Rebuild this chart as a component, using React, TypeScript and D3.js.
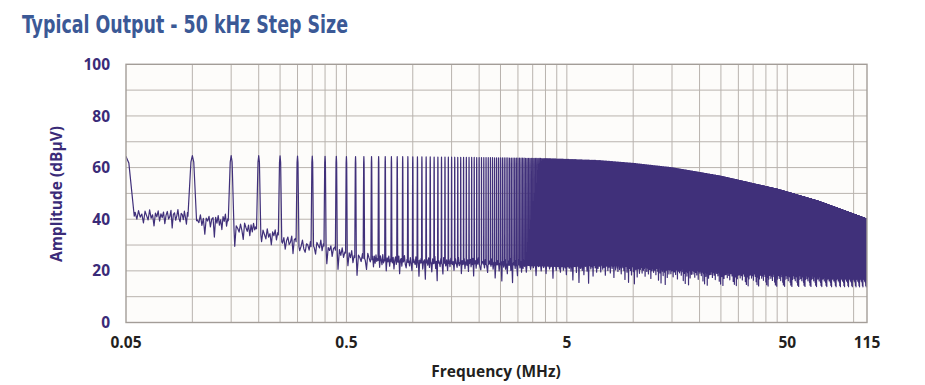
import React, { useMemo } from "react";
import * as d3 from "d3";

const TITLE = "Typical Output - 50 kHz Step Size";
const X_TITLE = "Frequency (MHz)";
const Y_TITLE = "Amplitude (dBµV)";

// Frequency axis (MHz), log scale
const stepMHz = 0.05;
const freqMin = 0.05;
const freqMax = 115;
const xTickValues = [0.05, 0.5, 5, 50, 115];
const xTickLabels = ["0.05", "0.5", "5", "50", "115"];
const gridDecades = [0.05, 0.5, 5, 50];
const gridMultipliers = [2, 3, 4, 5, 6, 7, 8, 9, 10];

// Amplitude axis (dBµV)
const yTickValues = [0, 20, 40, 60, 80, 100];
const yGridValues = [10, 20, 30, 40, 50, 60, 70, 80, 90];

// Peak envelope of the harmonic spikes
const peakFreq = [0.05, 0.1, 0.2, 0.5, 1, 2, 4, 7, 10, 15, 25, 46, 70, 115];
const peakDb = [64.3, 64.6, 64.6, 64.3, 64.2, 63.9, 63.5, 62.7, 61.6, 59.9, 56.6, 51.4, 46.8, 40];

// Noise floor between the first harmonics (one value per 50 kHz gap, 0.05–0.5 MHz)
const lowGapFloorDb = [41.2, 39.4, 36.3, 33.9, 31.3, 29.4, 29.6, 28, 26.9];
// Noise floor beyond 0.5 MHz
const floorFreq = [0.5, 0.6, 0.7, 1, 2, 3, 5, 7, 10, 20, 50, 115];
const floorDb = [25.5, 24.8, 24, 23.2, 22.6, 22.2, 21.6, 22.2, 21.8, 21.3, 20.8, 20.6];
// Floor jitter (dB)
const floorRipple = [
  1.5, -1.2, 2.1, -0.4, 0.8, -2.6, 1.9, 0.2, -1.5, 2.4, -0.8, 0.5, -3.8, 1.2, -0.3, 2.0, -1.9, 0.9,
  -0.6, 1.6, -2.9, 0.4, 1.8, -1.1, -0.2, 2.2, -4.6, 0.7, 1.3, -1.6, 0.1, 2.5, -0.9, -2.2, 1.1, 0.6,
  -1.4, 1.9, -0.5, -3.1, 1.4, 0.3, -0.7, 2.3, -1.8, 0.9, -5.2, 1.0, -0.1, 1.7, -2.4, 0.6, 1.2,
  -6.3, 1.3, -0.9, 2.0, -1.7, 0.4, -3.4, 1.6, -0.2, 2.6, -2.1, 0.7, -6.8, 1.1, 0.2, -1.3, 1.8,
  -0.6, -4.1, 2.2, 0.5, -1.0, 1.4, -2.7,
];
// Spike shape: frequency offsets (kHz) and drop below peak (dB)
const spikeOffsetKHz = [-1.5, 0, 1.5];
const spikeDropDb = [2.5, 0, 2.5];
const spikeBaseKHz = 4.5;

const W = 925;
const H = 385;
const M = { left: 126, right: 867, top: 64.3, bottom: 322.5 };

export default function App() {
  const x = useMemo(
    () => d3.scaleLog().domain([freqMin, freqMax]).range([M.left, M.right]),
    []
  );
  const y = useMemo(() => d3.scaleLinear().domain([0, 100]).range([M.bottom, M.top]), []);

  const pathD = useMemo(() => {
    const peakScale = d3.scaleLog().domain(peakFreq).range(peakDb).clamp(true);
    const floorScale = d3.scaleLog().domain(floorFreq).range(floorDb).clamp(true);
    const floorAt = (f: number) => {
      const k = Math.floor(f / stepMHz + 1e-9);
      if (k >= 1 && k <= lowGapFloorDb.length) return lowGapFloorDb[k - 1];
      if (k < 1) return lowGapFloorDb[0];
      return floorScale(f);
    };
    const pts: [number, number][] = [];
    let r = 0;
    const nH = Math.round(freqMax / stepMHz);
    const base = spikeBaseKHz / 1000;
    for (let k = 1; k <= nH; k++) {
      const fk = k * stepMHz;
      const pk = peakScale(fk);
      pts.push([fk - base, floorAt(fk - base)]);
      spikeOffsetKHz.forEach((o, i) => pts.push([fk + o / 1000, pk - spikeDropDb[i]]));
      pts.push([fk + base, floorAt(fk + base)]);
      if (k < nH) {
        const a = fk + base;
        const b = (k + 1) * stepMHz - base;
        const px = x(b) - x(a);
        const n = px > 6 ? Math.round(px / 1.3) : Math.max(1, Math.round(px / 0.8));
        for (let i = 0; i < n; i++) {
          const f = a + ((b - a) * (i + 0.5)) / n;
          pts.push([f, floorAt(f) + floorRipple[r % floorRipple.length]]);
          r++;
        }
      }
    }
    const line = d3
      .line<[number, number]>()
      .x((d) => x(d[0]))
      .y((d) => y(d[1]));
    return line(pts) || "";
  }, [x, y]);

  const vGrid: number[] = [];
  gridDecades.forEach((d) =>
    gridMultipliers.forEach((m) => {
      const v = d * m;
      if (v < freqMax) vGrid.push(v);
    })
  );

  const labelFont = "'Open Sans', 'Liberation Sans', sans-serif";

  return (
    <svg
      width={W}
      height={H}
      style={{ position: "absolute", left: 0, top: 0, background: "#ffffff" }}
    >
      <defs>
        <clipPath id="plotClip">
          <rect x={M.left} y={M.top} width={M.right - M.left} height={M.bottom - M.top} />
        </clipPath>
      </defs>
      <text
        x={22}
        y={33}
        fontFamily="'Liberation Sans Narrow', 'DejaVu Sans Condensed', 'Open Sans', sans-serif"
        fontWeight={700}
        fontSize={25}
        fill="#3b5996"
        textLength={326}
        lengthAdjust="spacingAndGlyphs"
      >
        {TITLE}
      </text>

      <rect
        x={M.left}
        y={M.top}
        width={M.right - M.left}
        height={M.bottom - M.top}
        fill="#fdfcfa"
      />
      <g stroke="#b9b3ae" strokeWidth={1}>
        {yGridValues.map((v) => (
          <line key={"h" + v} x1={M.left} x2={M.right} y1={y(v)} y2={y(v)} />
        ))}
        {vGrid.map((v) => (
          <line key={"v" + v} x1={x(v)} x2={x(v)} y1={M.top} y2={M.bottom} />
        ))}
      </g>

      <path
        d={pathD}
        fill="none"
        stroke="#40307a"
        strokeWidth={1.2}
        strokeLinejoin="round"
        clipPath="url(#plotClip)"
      />

      <rect
        x={M.left}
        y={M.top}
        width={M.right - M.left}
        height={M.bottom - M.top}
        fill="none"
        stroke="#a39d98"
        strokeWidth={1.4}
      />

      {yTickValues.map((v) => (
        <text
          key={"yt" + v}
          x={110}
          y={y(v)}
          dy="0.36em"
          textAnchor="end"
          fontFamily={labelFont}
          fontWeight={700}
          fontSize={15.5}
          fill="#3a2b78"
        >
          {v}
        </text>
      ))}
      {xTickValues.map((v, i) => (
        <text
          key={"xt" + v}
          x={x(v)}
          y={348}
          textAnchor="middle"
          fontFamily={labelFont}
          fontWeight={700}
          fontSize={15.5}
          fill="#231f20"
        >
          {xTickLabels[i]}
        </text>
      ))}
      <text
        x={496}
        y={377}
        textAnchor="middle"
        fontFamily={labelFont}
        fontWeight={700}
        fontSize={15.5}
        fill="#231f20"
      >
        {X_TITLE}
      </text>
      <text
        transform={`translate(62,194) rotate(-90)`}
        textAnchor="middle"
        fontFamily={labelFont}
        fontWeight={700}
        fontSize={15.5}
        fill="#3a2b78"
      >
        {Y_TITLE}
      </text>
    </svg>
  );
}
